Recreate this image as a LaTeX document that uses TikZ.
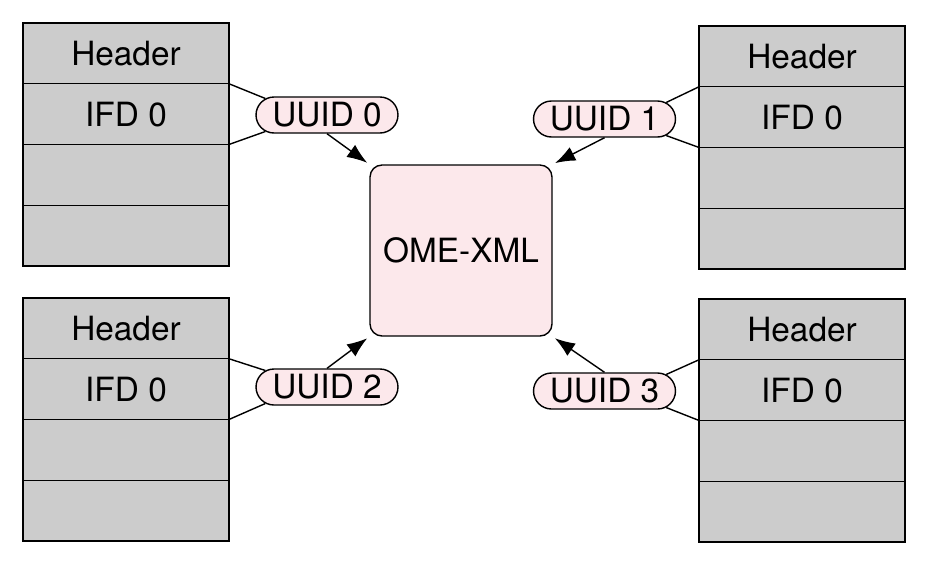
\documentclass[tikz,border=0pt]{standalone}
\usepackage{fontspec}
\setmainfont{TeX Gyre Heros}
\usepackage{tikz}
\usetikzlibrary{positioning, shapes.misc, arrows.meta}
\definecolor{grigio}{RGB}{204,204,204}
\definecolor{rosa}{RGB}{252,232,235}
\tikzset{
    campo/.style={draw, fill=grigio, line width=0.8pt, outer sep=0pt, inner sep=0pt,
        minimum width=4.12cm, minimum height=1.215cm, font=\fontsize{19}{22}\selectfont},
    uuid/.style={draw, fill=rosa, rounded rectangle, line width=0.8pt, inner sep=0pt,
        minimum width=2.84cm, minimum height=0.72cm, font=\fontsize{19}{22}\selectfont},
    blocco/.style={draw, fill=rosa, rounded corners=0.24cm, line width=0.8pt,
        minimum width=3.64cm, minimum height=3.42cm, font=\fontsize{19}{22}\selectfont},
    freccia/.style={-{Latex[length=11.5pt,width=8.5pt]}, line width=0.8pt, shorten >=1.5pt}
}

\begin{document}
\begin{tikzpicture}[x=0.02cm, y=-0.02cm]
    \useasboundingbox (0,0) rectangle (929,566);
    % File TIFF: quattro campi ciascuno
    \foreach \f/\x/\y in {a/126/23, b/802/26, c/126/298, d/802/299} {
        \node[campo, anchor=north] (\f0) at (\x,\y) {Header};
        \node[campo, below=0pt of \f0] (\f1) {IFD 0};
        \node[campo, below=0pt of \f1] (\f2) {};
        \node[campo, below=0pt of \f2] (\f3) {};
    }

    % Blocco centrale
    \node[blocco] (ome) at (461,250.5) {OME-XML};

    % Etichette UUID
    \node[uuid] (u0) at (327,115) {UUID 0};
    \node[uuid] (u1) at (604.5,119) {UUID 1};
    \node[uuid] (u2) at (327,387) {UUID 2};
    \node[uuid] (u3) at (604.5,391) {UUID 3};

    % Collegamenti IFD -> UUID
    \draw[line width=0.8pt] (a1.north east) -- (u0.165) (a1.south east) -- (u0.195);
    \draw[line width=0.8pt] (b1.north west) -- (u1.15) (b1.south west) -- (u1.345);
    \draw[line width=0.8pt] (c1.north east) -- (u2.165) (c1.south east) -- (u2.195);
    \draw[line width=0.8pt] (d1.north west) -- (u3.15) (d1.south west) -- (u3.345);

    % Frecce verso OME-XML
    \draw[freccia] (u0.south) -- (ome.north west);
    \draw[freccia] (u1.south) -- (ome.north east);
    \draw[freccia] (u2.north) -- (ome.south west);
    \draw[freccia] (u3.north) -- (ome.south east);
\end{tikzpicture}
\end{document}
